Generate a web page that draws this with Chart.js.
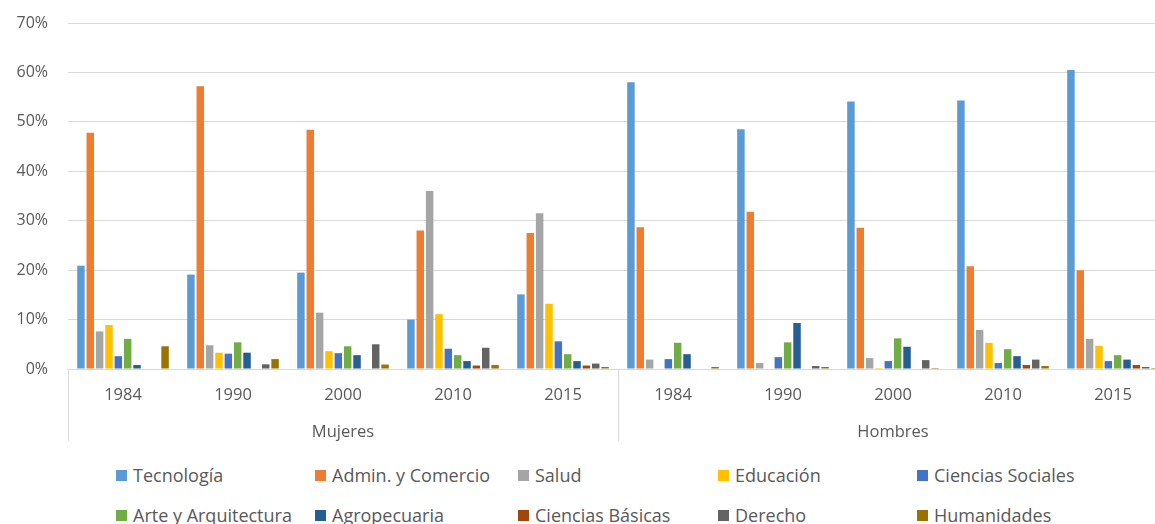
<!DOCTYPE html>
<html>
<head>
<meta charset="utf-8">
<script src="https://cdn.jsdelivr.net/npm/chart.js@4"></script>
<style>
html, body { margin: 0; padding: 0; background: #fff; overflow: hidden; }
#wrap { position: absolute; left: 0; top: 0; width: 1170px; height: 446px; }
#legend {
  position: absolute; left: 116px; top: 463px;
  display: grid; grid-template-columns: 199px 203px 200px 199px 200px; grid-auto-rows: 40px;
  font-family: "Open Sans"; font-size: 18px; color: #595959;
}
.item { display: flex; align-items: center; height: 24px; white-space: nowrap; }
.box { width: 11px; height: 11px; margin-right: 6px; flex: none; }
</style>
</head>
<body>
<div id="wrap"><canvas id="canvas"></canvas></div>
<div id="legend"></div>
<script>
// categories
var years  = ['1984', '1990', '2000', '2010', '2015', '1984', '1990', '2000', '2010', '2015'];
var groups = ['Mujeres', 'Hombres'];

// % per area (Mujeres x5, then Hombres x5)
var tecnologia  = [20.9, 19.1, 19.5, 10.0, 15.1, 58.0, 48.5, 54.1, 54.3, 60.5];
var admin       = [47.8, 57.2, 48.4, 28.0, 27.5, 28.7, 31.8, 28.6, 20.8, 20.0];
var salud       = [7.6, 4.8, 11.4, 36.0, 31.5, 1.9, 1.2, 2.2, 7.9, 6.1];
var educacion   = [8.9, 3.3, 3.6, 11.1, 13.2, 0, 0, 0.2, 5.3, 4.7];
var cSociales   = [2.6, 3.1, 3.2, 4.1, 5.6, 2.0, 2.4, 1.6, 1.2, 1.6];
var arte        = [6.1, 5.4, 4.6, 2.8, 3.0, 5.3, 5.4, 6.2, 4.0, 2.8];
var agro        = [0.8, 3.3, 2.8, 1.6, 1.6, 3.0, 9.3, 4.5, 2.6, 1.9];
var cBasicas    = [0, 0, 0, 0.7, 0.7, 0, 0, 0, 0.8, 0.8];
var derecho     = [0, 0.95, 5.0, 4.3, 1.1, 0, 0.6, 1.8, 1.9, 0.4];
var humanidades = [4.6, 2.0, 0.9, 0.8, 0.4, 0.4, 0.4, 0.2, 0.6, 0.2];

var names  = ['Tecnología', 'Admin. y Comercio', 'Salud', 'Educación', 'Ciencias Sociales',
              'Arte y Arquitectura', 'Agropecuaria', 'Ciencias Básicas', 'Derecho', 'Humanidades'];
var series = [tecnologia, admin, salud, educacion, cSociales, arte, agro, cBasicas, derecho, humanidades];
var colors = ['#5B9BD5', '#ED7D31', '#A5A5A5', '#FFC000', '#4472C4',
              '#70AD47', '#255E91', '#9E480E', '#636363', '#997300'];

var txt = '#595959';
var grid = '#d9d9d9';

var datasets = series.map(function(d, i) {
  return { label: names[i], data: d, backgroundColor: colors[i], xAxisID: 'x',
           categoryPercentage: 0.85, barPercentage: 0.8 };
});

// vertical separators of the two-level axis
var dividers = {
  id: 'dividers',
  afterDraw: function(chart) {
    var x = chart.scales.x, x2 = chart.scales.x2, ctx = chart.ctx;
    var half = (x.getPixelForValue(4) + x.getPixelForValue(5)) / 2;
    ctx.save();
    ctx.strokeStyle = grid;
    ctx.lineWidth = 1;
    [x.left, half, x.right].forEach(function(px) {
      var p = Math.round(px) + 0.5;
      ctx.beginPath();
      ctx.moveTo(p, chart.chartArea.bottom);
      ctx.lineTo(p, x2.bottom);
      ctx.stroke();
    });
    ctx.restore();
  }
};

var legend = document.getElementById('legend');
names.forEach(function(n, i) {
  var it = document.createElement('div');
  it.className = 'item';
  it.innerHTML = '<span class="box" style="background:' + colors[i] + '"></span><span>' + n + '</span>';
  legend.appendChild(it);
});

window.onload = function() {
  var ctx = document.getElementById('canvas').getContext('2d');
  window.myBar = new Chart(ctx, {
    type: 'bar',
    data: { labels: years, datasets: datasets },
    plugins: [dividers],
    options: {
      responsive: true,
      maintainAspectRatio: false,
      animation: false,
      layout: { padding: { top: 23, right: 2, bottom: 5, left: 0 } },
      plugins: { legend: { display: false }, tooltip: { enabled: false } },
      scales: {
        x: {
          afterFit: function(s) { s.height = 36; },
          grid: { display: false, drawTicks: false },
          border: { display: true, color: grid },
          ticks: { color: txt, font: { family: 'Open Sans', size: 16.5 }, padding: 16, maxRotation: 0, autoSkip: false }
        },
        x2: {
          type: 'category',
          labels: groups,
          position: 'bottom',
          offset: true,
          afterFit: function(s) { s.height = 36; },
          grid: { display: false, drawTicks: false },
          border: { display: false },
          ticks: { color: txt, font: { family: 'Open Sans', size: 16.5 }, padding: 17, maxRotation: 0 }
        },
        y: {
          min: 0, max: 70,
          afterFit: function(s) { s.width = 68; s.paddingTop = 0; s.paddingBottom = 0; },
          grid: { color: grid, drawTicks: false },
          border: { display: false },
          ticks: { stepSize: 10, padding: 20, color: txt, font: { family: 'Open Sans', size: 16 },
                   callback: function(v) { return v + '%'; } }
        }
      }
    }
  });
};
</script>
</body>
</html>
